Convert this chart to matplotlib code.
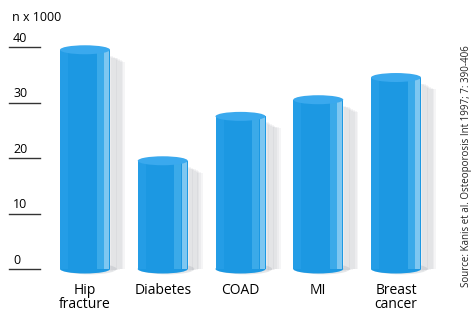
import matplotlib.pyplot as plt
import numpy as np
from matplotlib.patches import Ellipse, Rectangle

# data (n x 1000)
categories = ["Hip\nfracture", "Diabetes", "COAD", "MI", "Breast\ncancer"]
values = [39.5, 19.5, 27.5, 30.5, 34.5]
yticks = [0, 10, 20, 30, 40]
source = "Source: Kanis et al. Osteoporosis Int 1997; 7: 390-406"

plt.rcParams['font.family'] = ['Open Sans', 'DejaVu Sans']

fig = plt.figure(figsize=(4.72, 3.15), dpi=100)
ax = fig.add_axes([0, 0, 1, 1])
ax.axis('off')

px_x = 77.75   # pixels per category step
px_y = 5.55    # pixels per unit
x0 = -85 / px_x
ax.set_xlim(x0, (472 - 85) / px_x)
ax.set_ylim(-(315 - 269) / px_y, 269 / px_y)

w = 50 / px_x
eh = 9 / px_y
x = np.arange(len(values))

for xi, v in zip(x, values):
    # soft shadow on the right
    for k in range(8):
        ax.add_patch(Rectangle((xi + w / 2 - 0.03 + k * 0.022, -0.3 + k * 0.05), 0.07,
                               v - 0.8 - k * 0.2, color='#7a7f88', alpha=0.07, lw=0, zorder=1))
    ax.add_patch(Ellipse((xi + 0.06, 0), w + 0.05, eh * 1.2, color='#9aa0a8', alpha=0.25, lw=0, zorder=1))
    # body
    ax.bar(xi, v, width=w, color='#1c98e2', zorder=2)
    ax.bar(xi + w * 0.3, v, width=w * 0.14, color='#5bbcf1', alpha=0.5, zorder=3)
    ax.bar(xi + w * 0.43, v, width=w * 0.1, color='#a9dcf8', alpha=0.7, zorder=3)
    ax.bar(xi - w * 0.42, v, width=w * 0.16, color='#2aa2ea', alpha=0.6, zorder=3)
    ax.add_patch(Ellipse((xi, 0), w, eh, color='#1c98e2', lw=0, zorder=2))
    ax.add_patch(Ellipse((xi, v), w, eh, color='#3aa9ee', lw=0, zorder=4))

# y ticks drawn as short lines with labels above
for t in yticks:
    ax.plot([x0 + 9 / px_x, x0 + 40 / px_x], [t, t], color='#333333', lw=1)
    ax.text(x0 + 13 / px_x, t + 0.4, str(t), fontsize=9, ha='left', va='bottom')
ax.text(x0 + 12 / px_x, 48.47 - 18 / px_y, "n x 1000", fontsize=9, ha='left', va='center')

for xi, c in zip(x, categories):
    ax.text(xi, -2.5, c, fontsize=10, ha='center', va='top', linespacing=0.95)

ax.text(x0 + 466 / px_x, 48.47 - 166 / px_y, source, rotation=90, fontsize=7,
        ha='center', va='center', color='#222222')

fig.savefig("out.png", dpi=100)
